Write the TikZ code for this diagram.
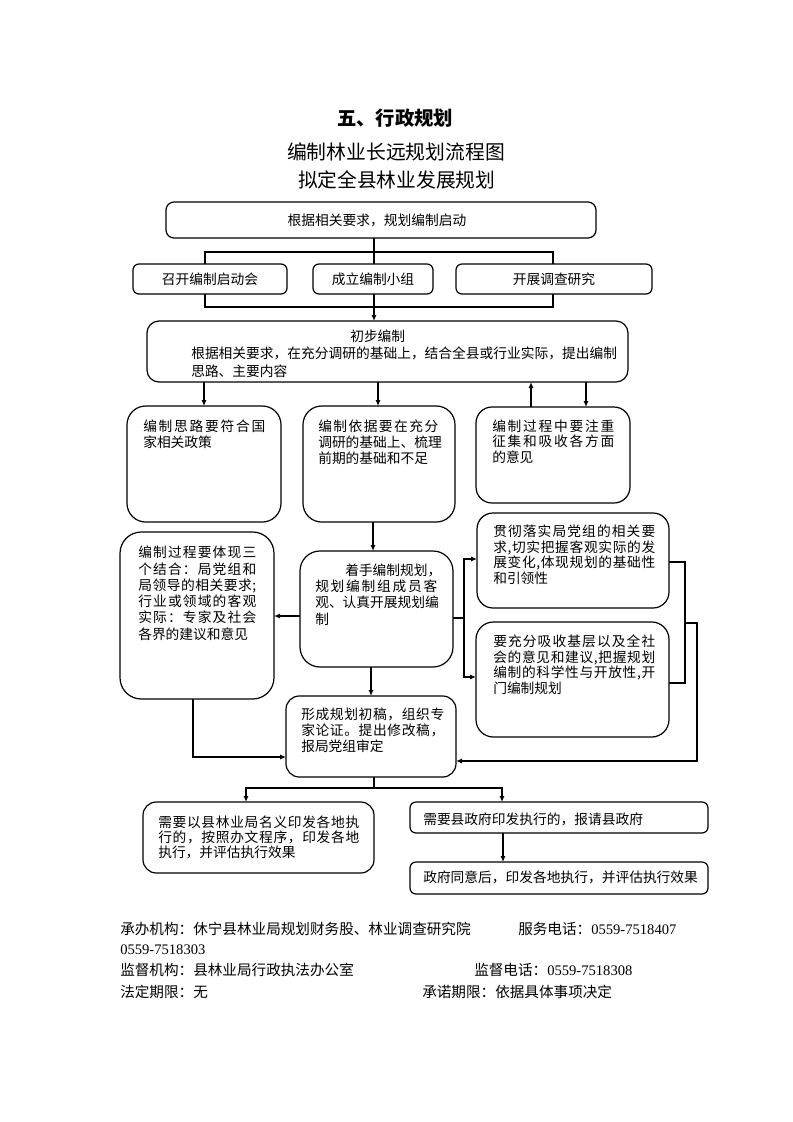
\documentclass[tikz,border=0pt]{standalone}
\usepackage{fontspec}
\setmainfont{Liberation Serif}
\newfontfamily\cjk{Noto Sans CJK SC}
\usetikzlibrary{arrows.meta}
\pgfdeclarelayer{bg}
\pgfsetlayers{bg,main}
\newlength\upx \setlength\upx{0.75pt}
\makeatletter
\def\jaux#1#2{#1\ifx\relax#2\expandafter\@gobble\else\hfill\expandafter\jaux\fi#2}
\makeatother
\newcommand\jline[2]{\makebox[#1\upx][l]{\jaux#2\relax}}
\newcommand\mlines[2]{\vtop{\baselineskip=#1\lineskiplimit=-100pt\relax\halign{##\hfil\cr#2\crcr}}}
\newcommand\mkbox[6]{\node[bx, rounded corners=#2, minimum width={(#5-#3)*0.75pt}, minimum height={(#6-#4)*0.75pt}] (#1) at (#3,#4) {};}
\begin{document}
\begin{tikzpicture}[x=0.75pt, y=-0.75pt,
  ln/.style={line width=0.9pt},
  arr/.style={line width=0.9pt, -{Latex[length=4.5pt,width=3.8pt]}},
  bx/.style={draw, line width=0.9pt, fill=white, inner sep=0pt, outer sep=0pt, anchor=north west},
  tx/.style={font=\cjk\fontsize{10.3pt}{12pt}\selectfont, inner sep=0pt, anchor=base west},
  ft/.style={font=\cjk\fontsize{10.95pt}{13pt}\selectfont, inner sep=0pt, anchor=base west}]
\useasboundingbox (0,0) rectangle (793,1122);

% titles
\node[font=\cjk\bfseries\fontsize{14.5pt}{16pt}\selectfont, inner sep=0pt] (t0) at (395.3,117.7) {五、行政规划};
\node[font=\cjk\fontsize{14.85pt}{16pt}\selectfont, inner sep=0pt] (t1) at (396,152.3) {编制林业长远规划流程图};
\node[font=\cjk\fontsize{14.8pt}{16pt}\selectfont, inner sep=0pt] (t2) at (396.7,180) {拟定全县林业发展规划};

% boxes
\mkbox{B1}{6pt}{166}{202}{596}{238}
\mkbox{R1}{4.5pt}{133}{264}{287}{294}
\mkbox{R2}{4.5pt}{313}{264}{433}{294}
\mkbox{R3}{4.5pt}{456}{264}{652}{294}
\mkbox{P}{9pt}{147}{321}{628}{382}
\mkbox{A}{14pt}{127}{406}{281}{522}
\mkbox{B}{14pt}{303}{406}{455}{522}
\mkbox{C}{12pt}{476}{407}{630}{503}
\mkbox{D}{16pt}{120}{532}{274}{699}
\mkbox{E}{15pt}{300}{551}{453}{667}
\mkbox{G}{12pt}{477}{513}{669}{608}
\mkbox{H}{13pt}{476}{622}{669}{737}
\mkbox{F}{10pt}{286}{696}{456}{777}
\mkbox{I}{10pt}{143}{802}{374}{873}
\mkbox{J}{4.5pt}{410}{802}{708}{833}
\mkbox{K}{4.5pt}{410}{862}{708}{894}

% texts
\node[tx, anchor=center] (tB1) at (377,220) {根据相关要求，规划编制启动};
\node[tx, anchor=center] (tR1) at (210,279) {召开编制启动会};
\node[tx, anchor=center] (tR2) at (373,279) {成立编制小组};
\node[tx, anchor=center] (tR3) at (554,279) {开展调查研究};
\node[tx] (tP) at (191,341.2) {\mlines{13.1pt}{\hskip159\upx 初步编制\cr 根据相关要求，在充分调研的基础上，结合全县或行业实际，提出编制\cr 思路、主要内容}};
\node[tx] (tA) at (143,431.2) {\mlines{12.2pt}{\jline{122}{编制思路要符合国}\cr 家相关政策}};
\node[tx] (tB) at (318,431.2) {\mlines{12pt}{\jline{120}{编制依据要在充分}\cr 调研的基础上、梳理\cr 前期的基础和不足}};
\node[tx] (tC) at (492,431.2) {\mlines{11.6pt}{\jline{122}{编制过程中要注重}\cr \jline{122}{征集和吸收各方面}\cr 的意见}};
\node[tx] (tD) at (138,557.9) {\mlines{12.2pt}{\jline{118}{编制过程要体现三}\cr \jline{118}{个结合：局党组和}\cr \jline{118}{局领导的相关要求;}\cr \jline{118}{行业或领域的客观}\cr \jline{118}{实际：专家及社会}\cr 各界的建议和意见}};
\node[tx] (tE) at (315,575.2) {\mlines{12.2pt}{\hskip30\upx 着手编制规划，\cr \jline{122}{规划编制组成员客}\cr 观、认真开展规划编\cr 制}};
\node[tx] (tF) at (301,719.2) {\mlines{12pt}{\jline{143}{形成规划初稿，组织专}\cr \jline{143}{家论证。提出修改稿，}\cr 报局党组审定}};
\node[tx] (tG) at (493,536.9) {\mlines{11.6pt}{\jline{162}{贯彻落实局党组的相关要}\cr \jline{162}{求,切实把握客观实际的发}\cr \jline{162}{展变化,体现规划的基础性}\cr 和引领性}};
\node[tx] (tH) at (493,646.9) {\mlines{11.6pt}{\jline{162}{要充分吸收基层以及全社}\cr \jline{162}{会的意见和建议,把握规划}\cr \jline{162}{编制的科学性与开放性,开}\cr 门编制规划}};
\node[tx] (tI) at (158,827.5) {\mlines{11.1pt}{\jline{201}{需要以县林业局名义印发各地执}\cr \jline{201}{行的，按照办文程序，印发各地}\cr 执行，并评估执行效果}};
\node[tx] (tJ) at (423,824) {需要县政府印发执行的，报请县政府};
\node[tx] (tK) at (423,882) {政府同意后，印发各地执行，并评估执行效果};

% footer
\node[ft] (f1) at (120,934.5) {承办机构：休宁县林业局规划财务股、林业调查研究院};
\node[ft] (f2) at (518,934.5) {服务电话：\rmfamily 0559-7518407};
\node[ft] (f3) at (120,954.5) {\rmfamily 0559-7518303};
\node[ft] (f4) at (120,975.5) {监督机构：县林业局行政执法办公室};
\node[ft] (f5) at (474,975.5) {监督电话：\rmfamily 0559-7518308};
\node[ft] (f6) at (120,997.5) {法定期限：无};
\node[ft] (f7) at (422,997.5) {承诺期限：依据具体事项决定};

% connector coordinates
\coordinate (rtl) at (205,252); \coordinate (rbr) at (553,307);
\coordinate (cx) at (374,0);
\coordinate (xa) at (204,0); \coordinate (xb) at (378,0);
\coordinate (xcu) at (531,0); \coordinate (xcd) at (586,0);
\coordinate (xbe) at (373,0); \coordinate (yed) at (0,616);
\coordinate (xef) at (371,0); \coordinate (br) at (464,618);
\coordinate (yg) at (0,559); \coordinate (yh) at (0,677);
\coordinate (ygr) at (0,562); \coordinate (rb) at (685,683);
\coordinate (rm) at (685,623); \coordinate (rr) at (697,761);
\coordinate (xd) at (193,0); \coordinate (ydf) at (0,757);
\coordinate (xf) at (374,0); \coordinate (fj) at (374,788);
\coordinate (xi) at (246,0); \coordinate (xj) at (502,0); \coordinate (xk) at (503,0);

\begin{pgfonlayer}{bg}
\fill[white] (0,0) rectangle (793,1122);
\draw[ln] (rtl) rectangle (rbr);
\draw[arr] (B1.south -| cx) -- (P.north -| cx);
\draw[arr] (P.south -| xa) -- (A.north -| xa);
\draw[arr] (P.south -| xb) -- (B.north -| xb);
\draw[arr] (C.north -| xcu) -- (P.south -| xcu);
\draw[arr] (P.south -| xcd) -- (C.north -| xcd);
\draw[arr] (B.south -| xbe) -- (E.north -| xbe);
\draw[arr] (E.west |- yed) -- (D.east |- yed);
\draw[arr] (E.south -| xef) -- (F.north -| xef);
\draw[ln] (E.east |- br) -- (br);
\draw[arr] (br) |- (G.west |- yg);
\draw[arr] (br) |- (H.west |- yh);
\draw[ln] (G.east |- ygr) -| (rb) -- (H.east |- rb);
\draw[arr] (rm) -| (rr) -- (F.east |- rr);
\draw[arr] (D.south -| xd) |- (F.west |- ydf);
\draw[ln] (F.south -| xf) -- (fj);
\draw[arr] (fj) -| (I.north -| xi);
\draw[arr] (fj) -| (J.north -| xj);
\draw[arr] (J.south -| xk) -- (K.north -| xk);
\end{pgfonlayer}
\end{tikzpicture}
\end{document}
